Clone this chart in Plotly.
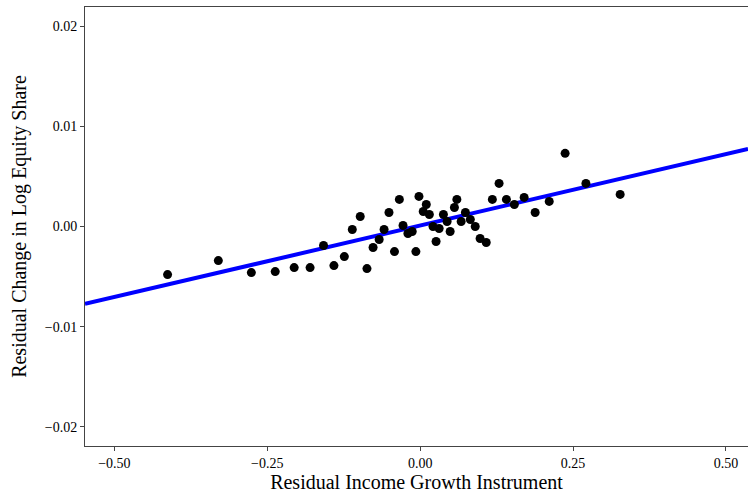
import plotly.graph_objects as go
import numpy as np

# binned residuals
income_growth_resid = [
    -0.413, -0.330, -0.276, -0.237, -0.206, -0.180, -0.158, -0.141, -0.124, -0.111,
    -0.098, -0.087, -0.077, -0.067, -0.059, -0.051, -0.042, -0.034, -0.028, -0.020,
    -0.013, -0.007, -0.002, 0.005, 0.010, 0.015, 0.021, 0.026, 0.031, 0.038,
    0.044, 0.049, 0.056, 0.060, 0.067, 0.074, 0.082, 0.090, 0.098, 0.108,
    0.118, 0.129, 0.141, 0.154, 0.170, 0.188, 0.211, 0.237, 0.271, 0.327,
]
equity_share_resid = [
    -0.0048, -0.0034, -0.0046, -0.0045, -0.0041, -0.0041, -0.0019, -0.0039, -0.0030, -0.0003,
    0.0010, -0.0042, -0.0021, -0.0013, -0.0003, 0.0014, -0.0025, 0.0027, 0.0001, -0.0007,
    -0.0005, -0.0025, 0.0030, 0.0015, 0.0022, 0.0012, 0.0000, -0.0015, -0.0002, 0.0012,
    0.0005, -0.0005, 0.0019, 0.0027, 0.0005, 0.0014, 0.0007, 0.0000, -0.0012, -0.0016,
    0.0027, 0.0043, 0.0027, 0.0022, 0.0029, 0.0014, 0.0025, 0.0073, 0.0043, 0.0032,
]

# fitted line
FIT_INTERCEPT = 0.0001
FIT_SLOPE = 0.01427

X_RANGE = [-0.548, 0.536]
Y_RANGE = [-0.0219, 0.0219]
x_ticks = [-0.50, -0.25, 0.00, 0.25, 0.50]
y_ticks = [-0.02, -0.01, 0.00, 0.01, 0.02]

FONT = "Liberation Serif"

fig = go.Figure()

line_x = np.array(X_RANGE)
fig.add_trace(go.Scatter(
    x=line_x, y=FIT_INTERCEPT + FIT_SLOPE * line_x,
    mode='lines', line=dict(color='#0000FF', width=4),
    hoverinfo='skip'
))

fig.add_trace(go.Scatter(
    x=income_growth_resid, y=equity_share_resid,
    mode='markers', marker=dict(color='black', size=9),
))

axis_style = dict(
    showgrid=False, zeroline=False, showline=True, linecolor='#444444', linewidth=1,
    mirror=True, ticks='outside', ticklen=4, tickcolor='#444444', automargin=False,
    tickfont=dict(family=FONT, size=14, color='black'),
)

fig.update_layout(
    width=748, height=494,
    margin=dict(l=85, r=0, t=7, b=48),
    paper_bgcolor='white', plot_bgcolor='white',
    showlegend=False,
    font=dict(family=FONT, color='black'),
    xaxis=dict(range=X_RANGE, tickvals=x_ticks, ticktext=[f"{v:.2f}".replace('-', '\u2212') for v in x_ticks],
               title=dict(text='Residual Income Growth Instrument', font=dict(family=FONT, size=20), standoff=4),
               **axis_style),
    yaxis=dict(range=Y_RANGE, tickvals=y_ticks, ticktext=[f"{v:.2f}".replace('-', '\u2212') for v in y_ticks],
               title=dict(text='Residual Change in Log Equity Share', font=dict(family=FONT, size=20), standoff=12),
               **axis_style),
)

# drop the default page margin so the figure sits at the window's corner
fig.write_html("out.html", config={'displayModeBar': False},
               post_script="document.body.style.margin='0';")
